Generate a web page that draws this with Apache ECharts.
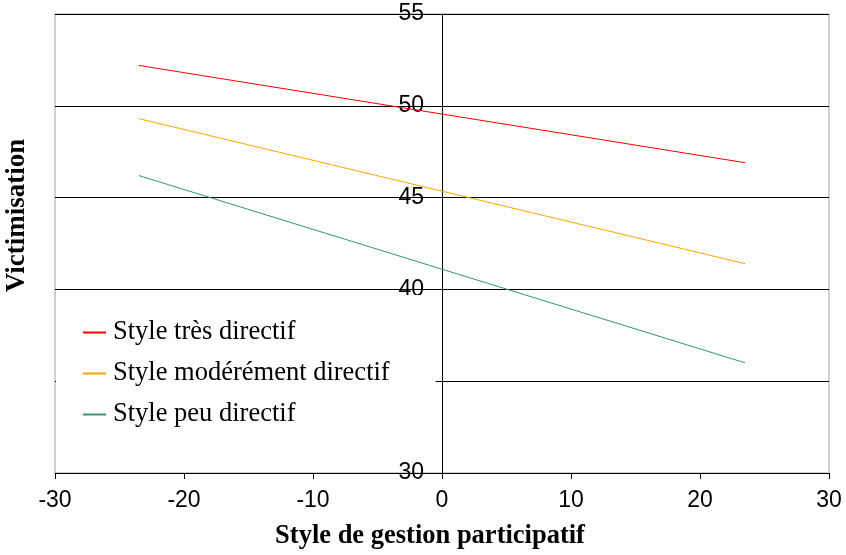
<!DOCTYPE html>
<html>
<head>
<meta charset="utf-8">
<script src="https://cdn.jsdelivr.net/npm/echarts@6/dist/echarts.min.js"></script>
<style>html,body{margin:0;padding:0;background:#fff}#chart{width:846px;height:555px}</style>
</head>
<body>
<div id="chart"></div>
<script>
// Data
var xPoints = [-23.5, 23.5];
var tresDirectif = [52.2, 46.9];
var moderementDirectif = [49.3, 41.4];
var peuDirectif = [46.2, 36.0];
var seriesNames = ['Style très directif', 'Style modérément directif', 'Style peu directif'];
var seriesColors = ['#ff0000', '#ffa500', '#339966'];
var xTitle = 'Style de gestion participatif';
var yTitle = 'Victimisation';

function pairs(xs, ys) { return xs.map(function (x, i) { return [x, ys[i]]; }); }
var allValues = [tresDirectif, moderementDirectif, peuDirectif];

var gridLeft = 55, gridRight = 17, W = 846;
var plotW = W - gridLeft - gridRight;
var xMin = -30, xMax = 30;
var yAxisOffset = -plotW * (0 - xMin) / (xMax - xMin); // place y axis at x = 0

var chart = echarts.init(document.getElementById('chart'), null, { renderer: 'canvas' });
chart.setOption({
  backgroundColor: '#fff',
  animation: false,
  grid: { left: gridLeft, right: gridRight, top: 14, bottom: 82, show: true, borderColor: '#a0a0a0', borderWidth: 1, containLabel: false, outerBoundsMode: 'none' },
  xAxis: {
    type: 'value', min: xMin, max: xMax, interval: 10,
    axisLine: { show: true, onZero: false, lineStyle: { color: '#000', width: 1 } },
    axisTick: { show: true, length: 6, inside: false, lineStyle: { color: '#000' } },
    axisLabel: { color: '#000', fontFamily: 'Liberation Sans, Arial', fontSize: 23, margin: 16 },
    splitLine: { show: false },
    name: xTitle, nameLocation: 'middle', nameGap: 50,
    nameTextStyle: { fontFamily: 'Liberation Serif, Times New Roman', fontWeight: 'bold', fontSize: 26.5, color: '#000', padding: [0, 24, 0, 0] }
  },
  yAxis: [{
    type: 'value', min: 30, max: 55, interval: 5, position: 'left', offset: yAxisOffset,
    axisLine: { show: true, onZero: false, lineStyle: { color: '#000', width: 1 } },
    axisTick: { show: true, length: 8, lineStyle: { color: '#000' } },
    axisLabel: { color: '#000', fontFamily: 'Liberation Sans, Arial', fontSize: 23, margin: 18 },
    splitLine: { show: true, lineStyle: { color: '#000', width: 1 } }
  }, {
    type: 'value', min: 30, max: 55, interval: 5, position: 'left',
    axisLine: { show: false }, axisTick: { show: false }, axisLabel: { show: false }, splitLine: { show: false },
    name: yTitle, nameLocation: 'middle', nameRotate: 90, nameGap: 24,
    nameTextStyle: { fontFamily: 'Liberation Serif, Times New Roman', fontWeight: 'bold', fontSize: 27, color: '#000', padding: [0, 0, 0, 56] }
  }],
  legend: {
    orient: 'vertical', left: 56, top: 295,
    itemWidth: 23, itemHeight: 2, itemGap: 14,
    padding: [24, 46, 25, 27],
    backgroundColor: '#fff',
    icon: 'rect',
    textStyle: { fontFamily: 'Liberation Serif, Times New Roman', fontSize: 26.5, color: '#000', padding: [0, 0, 0, 2] },
    data: seriesNames
  },
  series: seriesNames.map(function (n, i) {
    return {
      name: n, type: 'line', data: pairs(xPoints, allValues[i]),
      showSymbol: false, symbol: 'none',
      lineStyle: { color: seriesColors[i], width: 1 },
      itemStyle: { color: seriesColors[i] }
    };
  })
});
</script>
</body>
</html>
